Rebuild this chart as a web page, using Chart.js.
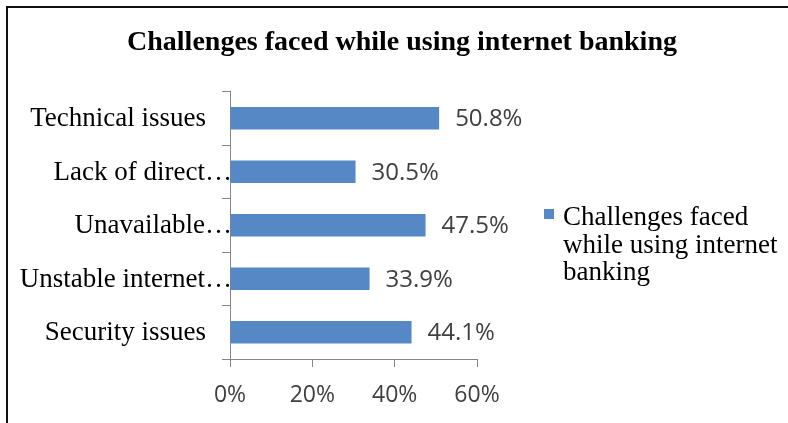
<!DOCTYPE html>
<html>
<head>
<meta charset="utf-8">
<script src="https://cdn.jsdelivr.net/npm/chart.js@4/dist/chart.umd.min.js"></script>
<style>
  html, body { margin: 0; padding: 0; background: #fff; }
  #wrap { position: relative; width: 788px; height: 423px; overflow: hidden; }
  #frame { position: absolute; left: 6px; top: 6px; width: 900px; height: 500px;
           border-top: 2px solid #111; border-left: 2px solid #111; pointer-events: none; }
</style>
</head>
<body>
<div id="wrap">
  <canvas id="myChart" width="788" height="423"></canvas>
  <div id="frame"></div>
</div>
<script>
const categories = ["Technical issues", "Lack of direct\u2026", "Unavailable\u2026", "Unstable internet\u2026", "Security issues"];
const values = [50.8, 30.5, 47.5, 33.9, 44.1];
const xTicks = [0, 20, 40, 60];
const seriesName = "Challenges faced while using internet banking";
const legendLines = ["Challenges faced", "while using internet", "banking"];

const barColor = "#5588C4";
const serif = "'Liberation Serif', 'Times New Roman', serif";
const sans = "'Open Sans', 'Liberation Sans', sans-serif";

// category names left of the axis; shortened names run up to the axis line
const categoryLabels = {
  id: "categoryLabels",
  afterDraw(chart) {
    const ctx = chart.ctx;
    const y = chart.scales.y;
    ctx.save();
    ctx.font = "27px " + serif;
    ctx.fillStyle = "#000";
    ctx.textAlign = "right";
    ctx.textBaseline = "middle";
    categories.forEach((c, i) => {
      const right = c.endsWith("\u2026") ? y.right + 2 : y.right - 24;
      ctx.fillText(c, right, y.getPixelForValue(i) + 1);
    });
    ctx.restore();
  }
};

// value labels just past the end of each bar
const valueLabels = {
  id: "valueLabels",
  afterDatasetsDraw(chart) {
    const ctx = chart.ctx;
    const meta = chart.getDatasetMeta(0);
    ctx.save();
    ctx.font = "24px " + sans;
    ctx.fillStyle = "#404040";
    ctx.textAlign = "left";
    ctx.textBaseline = "middle";
    meta.data.forEach((bar, i) => {
      ctx.fillText(values[i].toFixed(1) + "%", bar.x + 16, bar.y + 1);
    });
    ctx.restore();
  }
};

// legend box on the right with the wrapped series name
const sideLegend = {
  id: "sideLegend",
  afterDraw(chart) {
    const ctx = chart.ctx;
    ctx.save();
    ctx.fillStyle = barColor;
    ctx.fillRect(544, 209, 10, 10);
    ctx.font = "27px " + serif;
    ctx.fillStyle = "#000";
    ctx.textAlign = "left";
    ctx.textBaseline = "alphabetic";
    legendLines.forEach((t, i) => ctx.fillText(t, 563, 225 + i * 27.5));
    ctx.restore();
  }
};

const myChartRef = document.getElementById("myChart").getContext("2d");
new Chart(myChartRef, {
  type: "bar",
  data: {
    labels: categories,
    datasets: [{
      label: seriesName,
      data: values,
      backgroundColor: barColor,
      borderWidth: 0,
      barPercentage: 0.42,
      categoryPercentage: 1
    }]
  },
  options: {
    indexAxis: "y",
    responsive: false,
    animation: false,
    layout: { padding: { left: 16, right: 0, top: 0, bottom: 0 } },
    plugins: {
      legend: { display: false },
      tooltip: { enabled: false },
      title: {
        display: true,
        text: "Challenges faced while using internet banking",
        color: "#000",
        font: { family: serif, size: 28, weight: "bold", lineHeight: 1.2 },
        padding: { top: 26, bottom: 32 }
      }
    },
    scales: {
      x: {
        min: 0,
        max: 60,
        afterBuildTicks: s => { s.ticks = xTicks.map(v => ({ value: v })); },
        afterFit: s => { s.height = 64; },
        ticks: {
          callback: v => v + "%",
          color: "#404040",
          font: { family: sans, size: 23 },
          padding: 15,
          maxRotation: 0
        },
        grid: { drawOnChartArea: false, tickLength: 8, color: "#868686" },
        border: { color: "#868686" }
      },
      y: {
        afterFit: s => { s.width = 214; },
        ticks: { display: false },
        grid: { drawOnChartArea: false, offset: true, tickLength: 8, color: "#868686" },
        border: { color: "#868686" }
      },
      side: {
        type: "linear",
        position: "right",
        min: 0,
        max: 1,
        afterFit: s => { s.width = 311; },
        ticks: { display: false },
        grid: { display: false },
        border: { display: false }
      }
    }
  },
  plugins: [categoryLabels, valueLabels, sideLegend]
});
</script>
</body>
</html>
